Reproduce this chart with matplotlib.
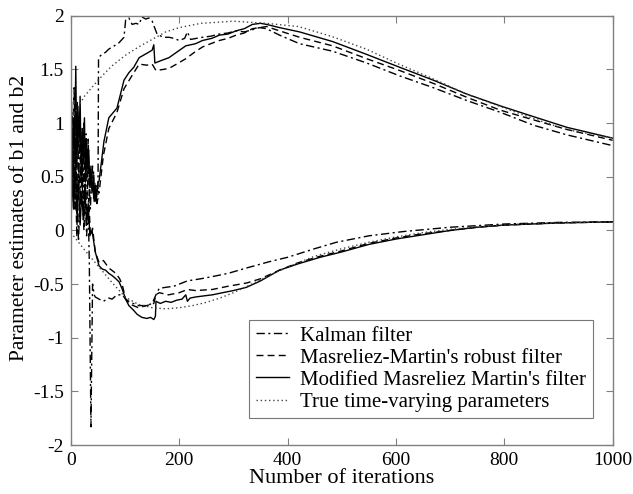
import matplotlib
matplotlib.use('Agg')
import matplotlib.pyplot as plt

plt.rcParams['font.family'] = ['Liberation Serif', 'DejaVu Serif']
plt.rcParams['axes.unicode_minus'] = False

# ---- true time-varying parameters ----
true_b1_x = [0, 10, 25, 50, 75, 100, 125, 150, 175, 200, 240, 300, 360, 420, 480,
             545, 605, 670, 730, 795, 855, 915, 1000]
true_b1_y = [1.05, 1.12, 1.25, 1.40, 1.53, 1.63, 1.71, 1.78, 1.85, 1.89, 1.93, 1.95,
             1.93, 1.90, 1.81, 1.69, 1.55, 1.41, 1.27, 1.15, 1.04, 0.94, 0.86]
true_b2_x = [0, 25, 50, 75, 100, 125, 150, 175, 200, 225, 250, 275, 300, 325, 350,
             375, 400, 450, 500, 550, 600, 650, 700, 750, 800, 850, 900, 950, 1000]
true_b2_y = [-0.02, -0.18, -0.33, -0.48, -0.62, -0.69, -0.72, -0.73, -0.72, -0.70,
             -0.67, -0.63, -0.58, -0.52, -0.46, -0.40, -0.34, -0.24, -0.17, -0.11,
             -0.06, -0.02, 0.01, 0.035, 0.05, 0.062, 0.07, 0.076, 0.08]

# ---- Kalman filter ----
kal_b1_x = [0, 2, 4, 6, 8, 10, 12, 14, 16, 18, 20, 22, 24, 26, 28, 30, 32, 34, 36, 38,
            40, 42, 44, 46, 48, 50, 51, 57, 64, 70, 80, 89, 98, 101, 107, 113, 120, 126,
            131, 138, 144, 150, 159, 170, 181, 190, 200, 210, 215, 221, 232, 243, 258,
            274, 290, 305, 320, 335, 348, 361, 385, 422, 483, 546, 607, 669, 731, 793,
            854, 916, 1000]
kal_b1_y = [0, 1.1, 0.7, 0.2, 0.9, 0.5, 1.2, 0.35, 0.75, 0.95, 0.4, 0.8, 0.25, 0.65,
            0.9, 0.3, 0.6, 0.45, 0.2, 0.5, 0.35, 0.55, 0.3, 0.42, 0.25, 0.3, 1.61, 1.64,
            1.66, 1.69, 1.72, 1.75, 1.80, 1.96, 1.98, 1.92, 1.93, 1.92, 1.99, 1.97, 1.98,
            1.95, 1.83, 1.80, 1.80, 1.79, 1.77, 1.79, 1.85, 1.78, 1.79, 1.80, 1.81, 1.83,
            1.84, 1.86, 1.85, 1.87, 1.89, 1.88, 1.82, 1.74, 1.67, 1.56, 1.44, 1.33, 1.21,
            1.10, 0.98, 0.89, 0.79]
kal_b2_x = [0, 2, 5, 8, 11, 14, 17, 20, 23, 26, 29, 32, 34, 37, 40, 43, 45, 52, 60, 70,
            76, 85, 95, 101, 110, 125, 140, 150, 157, 163, 175, 190, 200, 215, 240, 261,
            290, 324, 367, 400, 450, 490, 550, 614, 700, 800, 900, 1000]
kal_b2_y = [0, 0.4, 0.75, 0.2, 0.5, -0.1, 0.3, 0.6, 0.1, 0.35, -0.05, 0.2, -0.3, -1.83,
            -0.5, -0.6, -0.62, -0.64, -0.66, -0.63, -0.64, -0.6, -0.6, -0.64, -0.67,
            -0.7, -0.7, -0.68, -0.6, -0.54, -0.53, -0.52, -0.5, -0.47, -0.45, -0.43,
            -0.4, -0.35, -0.29, -0.25, -0.17, -0.11, -0.05, -0.01, 0.03, 0.06, 0.075,
            0.08]

# ---- Masreliez-Martin's robust filter ----
mm_b1_x = [0, 2, 4, 6, 8, 11, 12, 14, 16, 18, 20, 22, 24, 26, 28, 30, 32, 34, 36, 38,
           40, 42, 44, 46, 48, 52, 60, 70, 85, 98, 110, 126, 140, 150, 157, 170, 181,
           195, 212, 228, 243, 258, 274, 290, 305, 320, 335, 348, 361, 385, 422, 483,
           546, 607, 669, 731, 793, 854, 916, 1000]
mm_b1_y = [0, 0.9, 0.4, 1.33, 0.6, -0.06, 0.3, 0.8, 1.1, 0.45, 0.9, 0.55, 1.0, 0.35,
           0.7, 0.5, 0.85, 0.3, 0.55, 0.4, 0.6, 0.3, 0.45, 0.25, 0.38, 0.35, 0.7, 0.95,
           1.1, 1.32, 1.42, 1.55, 1.54, 1.55, 1.49, 1.50, 1.51, 1.55, 1.60, 1.66, 1.71,
           1.74, 1.77, 1.79, 1.82, 1.84, 1.88, 1.89, 1.90, 1.86, 1.80, 1.72, 1.60, 1.49,
           1.37, 1.24, 1.12, 1.03, 0.94, 0.84]
mm_b2_x = [0, 3, 6, 9, 12, 15, 18, 21, 24, 27, 30, 33, 36, 40, 45, 52, 60, 70, 83, 90,
           95, 101, 107, 115, 125, 140, 153, 157, 163, 180, 200, 215, 230, 261, 290,
           324, 350, 385, 420, 460, 500, 550, 600, 650, 700, 750, 800, 850, 900, 950,
           1000]
mm_b2_y = [0, 0.7, 0.3, 0.8, 0.1, 0.55, 0.25, 0.6, 0.0, 0.4, 0.15, 0.3, -0.05, 0.02,
           -0.2, -0.3, -0.28, -0.35, -0.4, -0.45, -0.51, -0.64, -0.68, -0.7, -0.72,
           -0.7, -0.68, -0.6, -0.58, -0.6, -0.58, -0.55, -0.56, -0.55, -0.52, -0.49,
           -0.45, -0.37, -0.30, -0.24, -0.19, -0.12, -0.07, -0.03, 0.0, 0.03, 0.05,
           0.06, 0.07, 0.075, 0.08]

# ---- Modified Masreliez Martin's filter ----
mod_b1_x = [0, 1, 3, 5, 7, 9, 11, 13, 15, 17, 19, 21, 23, 25, 27, 29, 31, 33, 35, 37,
            39, 41, 43, 45, 47, 50, 52, 61, 70, 85, 98, 107, 116, 126, 140, 150, 153,
            155, 165, 181, 195, 212, 230, 243, 260, 274, 290, 305, 320, 335, 350, 361,
            385, 422, 483, 546, 607, 669, 731, 793, 854, 916, 1000]
mod_b1_y = [0, 1.2, 0.55, 1.05, 0.7, 1.53, 0.6, 1.15, 0.8, 1.25, 0.5, 0.95, 0.7, 1.05,
            0.45, 0.85, 0.6, 0.75, 0.4, 0.6, 0.35, 0.45, 0.27, 0.4, 0.3, 0.45, 0.46,
            0.83, 1.05, 1.14, 1.40, 1.47, 1.52, 1.61, 1.65, 1.68, 1.73, 1.56, 1.58,
            1.61, 1.66, 1.72, 1.74, 1.77, 1.79, 1.82, 1.83, 1.86, 1.88, 1.92, 1.93,
            1.92, 1.89, 1.85, 1.76, 1.64, 1.52, 1.40, 1.27, 1.16, 1.06, 0.96, 0.86]
mod_b2_x = [0, 2, 5, 8, 11, 14, 17, 20, 23, 26, 29, 32, 35, 39, 45, 52, 58, 64, 70, 76,
            83, 89, 95, 101, 107, 115, 122, 131, 140, 147, 153, 156, 157, 165, 175, 185,
            195, 205, 212, 215, 220, 230, 245, 261, 280, 300, 324, 350, 385, 420, 460,
            500, 550, 600, 650, 700, 750, 800, 850, 900, 950, 1000]
mod_b2_y = [0, 0.5, 0.2, 0.6, 0.15, 0.45, 0.05, 0.35, 0.1, 0.4, 0.05, 0.25, -0.05, 0.0,
            -0.2, -0.33, -0.36, -0.37, -0.4, -0.42, -0.45, -0.48, -0.55, -0.64, -0.7,
            -0.74, -0.78, -0.81, -0.82, -0.81, -0.83, -0.8, -0.66, -0.68, -0.66, -0.67,
            -0.65, -0.64, -0.6, -0.66, -0.63, -0.62, -0.61, -0.6, -0.58, -0.56, -0.53,
            -0.47, -0.37, -0.31, -0.25, -0.2, -0.13, -0.08, -0.04, 0.0, 0.03, 0.05,
            0.06, 0.07, 0.075, 0.08]

labels = ['Kalman filter', "Masreliez-Martin's robust filter",
          "Modified Masreliez Martin's filter", 'True time-varying parameters']

fig = plt.figure(figsize=(6.33, 4.94), dpi=100)
ax = fig.add_axes([0.112, 0.099, 0.856, 0.869])

dashdot = (0, (6, 2.5, 1.5, 2.5))
dashed = (0, (5, 3))
dotted = (0, (1, 2))

ax.plot(kal_b1_x, kal_b1_y, color='black', lw=1.0, ls=dashdot, label=labels[0])
ax.plot(kal_b2_x, kal_b2_y, color='black', lw=1.0, ls=dashdot)
ax.plot(mm_b1_x, mm_b1_y, color='black', lw=1.0, ls=dashed, label=labels[1])
ax.plot(mm_b2_x, mm_b2_y, color='black', lw=1.0, ls=dashed)
ax.plot(mod_b1_x, mod_b1_y, color='black', lw=1.0, ls='-', label=labels[2])
ax.plot(mod_b2_x, mod_b2_y, color='black', lw=1.0, ls='-')
ax.plot(true_b1_x, true_b1_y, color='#444444', lw=1.0, ls=dotted, label=labels[3])
ax.plot(true_b2_x, true_b2_y, color='#444444', lw=1.0, ls=dotted)

ax.set_xlim(0, 1000)
ax.set_ylim(-2, 2)
ax.set_xticks([0, 200, 400, 600, 800, 1000])
ax.set_yticks([-2, -1.5, -1, -0.5, 0, 0.5, 1, 1.5, 2])
ax.set_yticklabels(['-2', '-1.5', '-1', '-0.5', '0', '0.5', '1', '1.5', '2'])
ax.tick_params(direction='in', top=True, right=True, length=5, width=0.8,
               color='#808080', labelsize=14, pad=5)
for s in ax.spines.values():
    s.set_color('#808080')
    s.set_linewidth(1.0)

ax.set_xlabel('Number of iterations', fontsize=16, labelpad=0)
ax.set_ylabel('Parameter estimates of b1 and b2', fontsize=15.5)
ax.yaxis.set_label_coords(-0.077, 0.53)

leg = ax.legend(loc='lower right', bbox_to_anchor=(0.963, 0.063), fontsize=15,
                frameon=True, fancybox=False, handlelength=1.6, borderpad=0.3,
                labelspacing=0.12, handletextpad=0.55, borderaxespad=0)
leg.get_frame().set_edgecolor('#555555')
leg.get_frame().set_linewidth(0.8)

fig.savefig('out.png', dpi=100)
